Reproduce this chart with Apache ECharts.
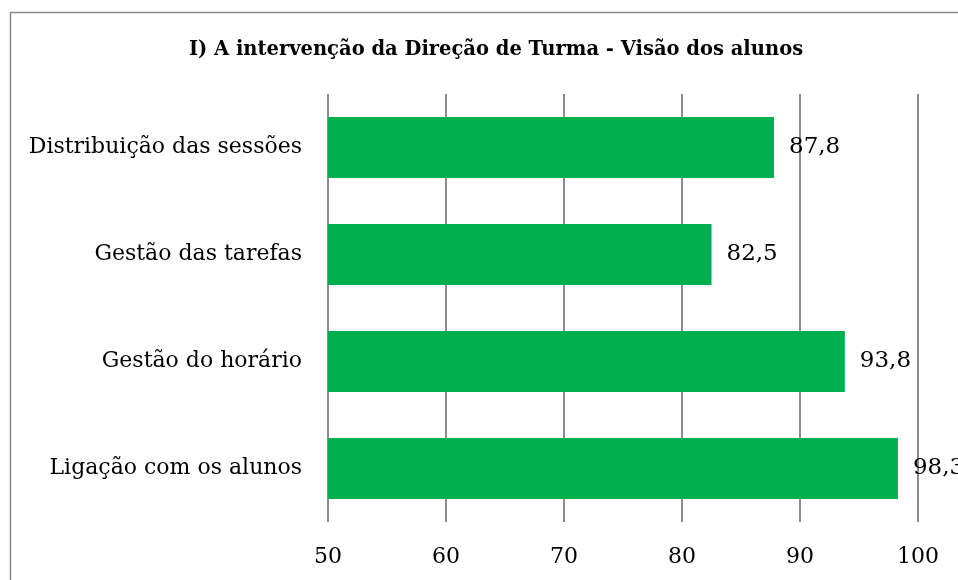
<!DOCTYPE html>
<html>
<head>
<meta charset="utf-8">
<script src="https://cdn.jsdelivr.net/npm/echarts@6/dist/echarts.min.js"></script>
<style>
  html, body { margin: 0; padding: 0; background: #fff; }
  #chart { width: 958px; height: 580px; }
</style>
</head>
<body>
<div id="chart"></div>
<script>
const titleText = 'I) A intervenção da Direção de Turma - Visão dos alunos'
const categories = [
  'Distribuição das sessões',
  'Gestão das tarefas',
  'Gestão do horário',
  'Ligação com os alunos'
]
const values = [87.8, 82.5, 93.8, 98.3]

const FONT = '"DejaVu Serif", serif'

const chart = echarts.init(document.getElementById('chart'))
chart.setOption({
  animation: false,
  title: {
    text: titleText,
    left: 491,
    top: 35,
    textAlign: 'center',
    textStyle: { fontFamily: FONT, fontWeight: 'bold', fontSize: 19.5, color: '#000' }
  },
  graphic: [{
    type: 'rect',
    shape: { x: 10.5, y: 12.5, width: 1200, height: 1200 },
    style: { fill: 'none', stroke: '#898989', lineWidth: 1.5 },
    silent: true
  }],
  grid: { left: 328, right: 40, top: 94, bottom: 58 },
  xAxis: {
    type: 'value',
    min: 50,
    max: 100,
    interval: 10,
    axisLine: { show: false },
    axisTick: { show: false },
    axisLabel: { margin: 24, fontFamily: FONT, fontSize: 22, color: '#000' },
    splitLine: { lineStyle: { color: '#8c8c8c', width: 2 } }
  },
  yAxis: {
    type: 'category',
    data: categories,
    inverse: true,
    axisLine: { show: false },
    axisTick: { show: false },
    axisLabel: { margin: 26, fontFamily: FONT, fontSize: 22, color: '#000' },
    splitLine: { show: false }
  },
  series: [{
    type: 'bar',
    data: values,
    barWidth: 61,
    itemStyle: { color: '#00b050' },
    label: {
      show: true,
      position: 'right',
      distance: 15,
      fontFamily: FONT,
      fontSize: 23,
      color: '#000',
      formatter: p => String(p.value).replace('.', ',')
    }
  }]
})
</script>
</body>
</html>
